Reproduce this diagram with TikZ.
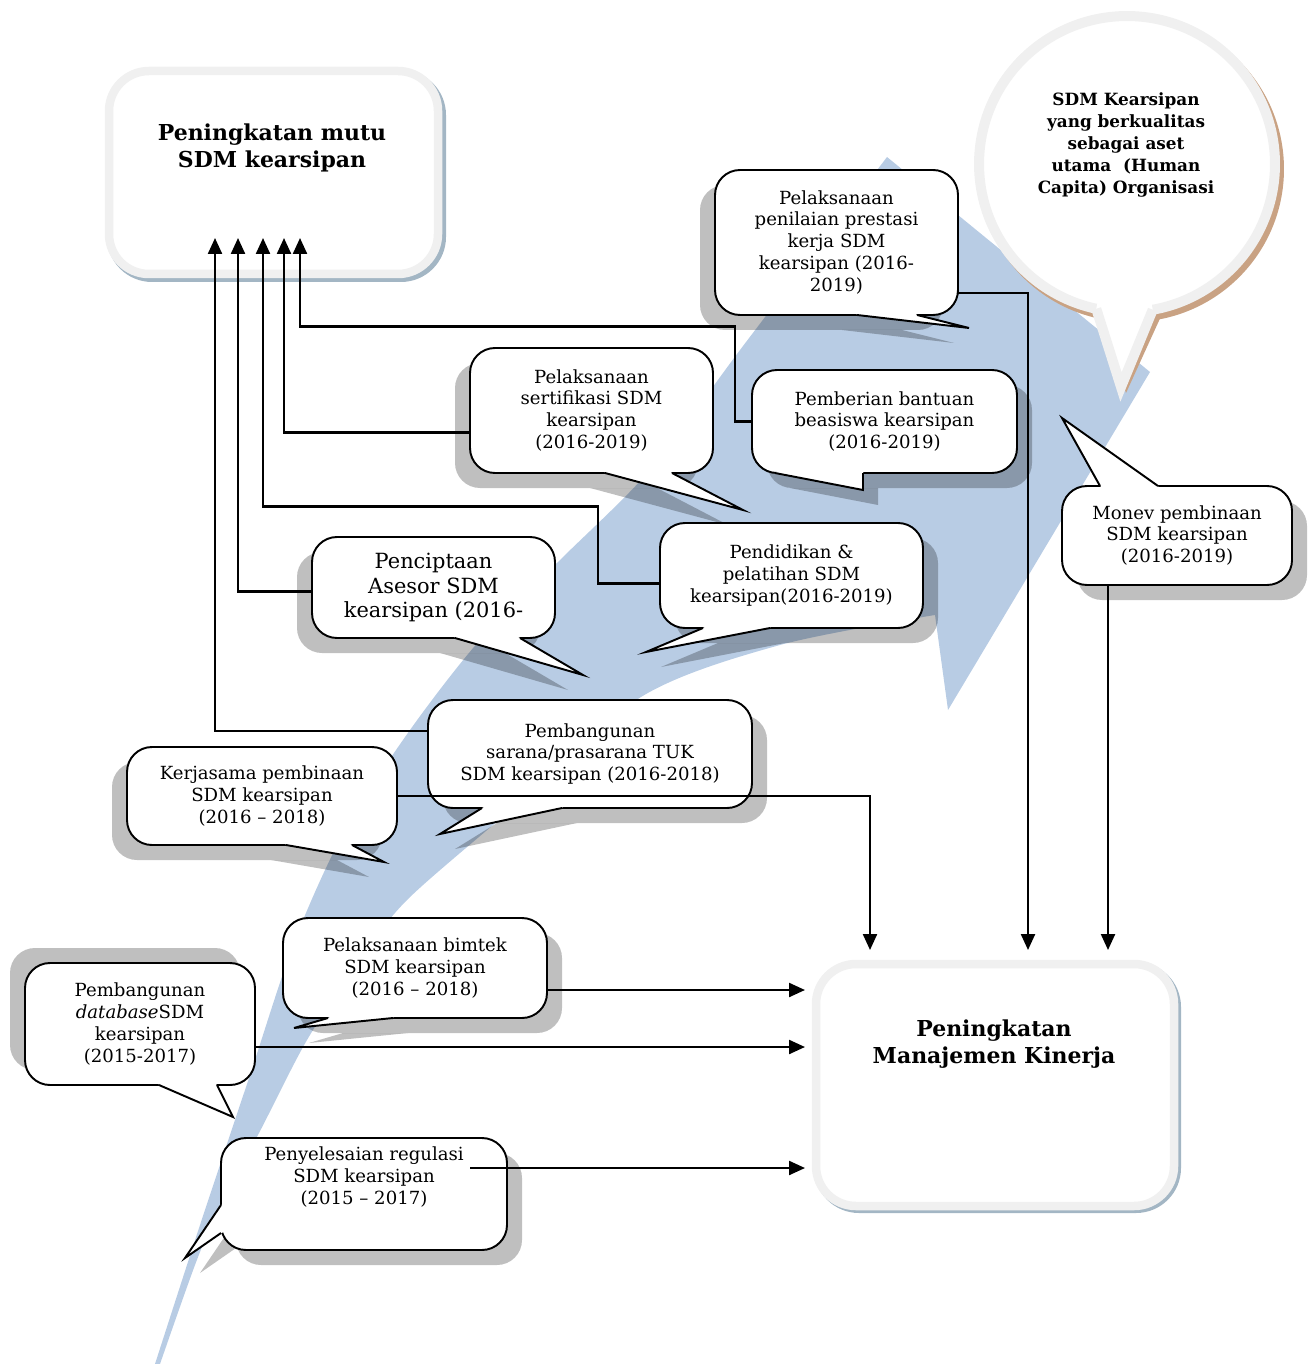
\documentclass[tikz,border=0pt]{standalone}
\usepackage{fontspec}
\setmainfont{DejaVu Serif}
\usetikzlibrary{arrows.meta,calc,positioning}

\pgfdeclarelayer{back}
\pgfdeclarelayer{wire}
\pgfdeclarelayer{shade}
\pgfsetlayers{back,wire,shade,main}

\definecolor{swooshblue}{HTML}{B8CCE4}
\definecolor{rimgray}{HTML}{F0F0F0}
\definecolor{boxshadow}{HTML}{A3B6C4}
\definecolor{tanshadow}{HTML}{C9A283}

% shadow of a bubble: node, dx, dy
\newcommand{\bubshade}[3]{%
  \begin{pgfonlayer}{shade}
    \fill[dropsh, rounded corners=0.5cm] ($(#1.south west)+(#2,#3)$) rectangle ($(#1.north east)+(#2,#3)$);
  \end{pgfonlayer}}
% pointer of a bubble: node, base a, base b, tip, shadow dx, dy
\newcommand{\bubtail}[6]{%
  \begin{pgfonlayer}{shade}
    \fill[dropsh] ($(#2)+(#5,#6)$) -- ($(#4)+(#5,#6)$) -- ($(#3)+(#5,#6)$) -- cycle;
  \end{pgfonlayer}
  \fill[white] ($(#2)!3pt!(#1.center)$) -- (#2) -- (#4) -- (#3) -- ($(#3)!3pt!(#1.center)$) -- cycle;
  \draw[bubline] (#2) -- (#4) -- (#3);}

\begin{document}
\begin{tikzpicture}[
    x=0.02cm, y=-0.02cm,
    bubble/.style={draw, fill=white, rounded corners=0.5cm, align=center, inner sep=0pt, outer sep=0pt,
        line width=1.1pt, font=\fontsize{10.3}{12.5}\selectfont},
    wh/.style 2 args={minimum width=#1*0.02cm, minimum height=#2*0.02cm},
    bubline/.style={line width=1.1pt},
    dropsh/.style={fill=black, opacity=0.25},
    conn/.style={draw, line width=1.3pt, -{Triangle[width=0.28cm,length=0.32cm]}},
    mainbox/.style={draw=rimgray, line width=0.17cm, fill=white, rounded corners=0.8cm, outer sep=0pt},
    headline/.style={font=\bfseries\fontsize{12.5}{15.5}\selectfont, align=center}
]
\useasboundingbox (0,0) rectangle (1310,1364);

% Swoosh
\begin{pgfonlayer}{back}
\fill[swooshblue] plot[smooth] coordinates {(155,1364) (200,1225) (250,1075) (295,940) (345,830) (410,730)
    (480,640) (560,560) (650,470) (740,350) (820,245) (887,157)}
  -- (1150,372) -- (948,710)
  -- plot[smooth] coordinates {(935,615) (780,645) (641,697) (507,813) (407,900) (360,960) (307,1040)
    (259,1133) (222,1200) (195,1265) (160,1364)} -- cycle;
\end{pgfonlayer}

% Main boxes
\begin{pgfonlayer}{back}
\fill[boxshadow, rounded corners=0.9cm] (107,70) rectangle (446,282);
\node[mainbox, wh={329}{203}] (mutu) at (273.5,172.5) {};
\node[headline] (mututitle) at (272,148) {Peningkatan mutu\\SDM kearsipan};
\end{pgfonlayer}
\node[mainbox, wh={358}{242}] (kin) at (995,1085) {};
\node[headline] (kintitle) at (994,1044) {Peningkatan\\Manajemen Kinerja};
\begin{pgfonlayer}{shade}
\fill[boxshadow, rounded corners=0.9cm] ($(kin.south west)+(-2,7)$) rectangle ($(kin.north east)+(7,-2)$);
\end{pgfonlayer}

% Goal
\node[circle, draw=rimgray, line width=0.2cm, fill=white, minimum size=5.92cm, inner sep=0pt, outer sep=0pt] (goal) at (1127,164) {};
\coordinate (ga) at ($(goal.center)+(102:148)$);
\coordinate (gb) at ($(goal.center)+(80:148)$);
\coordinate (gtip) at (1121,387);
\begin{pgfonlayer}{shade}
\fill[tanshadow] ($(goal.center)+(4,5)$) circle[radius=3.06cm];
\fill[tanshadow] ($(ga)+(4,5)$) -- ($(gtip)+(5,6)$) -- ($(gb)+(9,5)$) -- cycle;
\end{pgfonlayer}
\fill[white] ($(ga)!9pt!(goal.center)$) -- (ga) -- (gtip) -- (gb) -- ($(gb)!9pt!(goal.center)$) -- cycle;
\draw[rimgray, line width=0.2cm] (ga) -- (gtip) -- (gb);
\node[font=\bfseries\fontsize{9.6}{12.5}\selectfont, align=center] (goaltext) at (1126,145)
  {SDM Kearsipan\\yang berkualitas\\sebagai aset\\utama~ (Human\\Capita) Organisasi};

% Bubbles
\node[bubble, wh={243}{145}] (pen) at (836.5,242.5) {Pelaksanaan\\penilaian prestasi\\kerja SDM\\kearsipan (2016-\\2019)};
\bubshade{pen}{-15}{15}
\bubtail{pen}{857,315}{917,315}{969,328}{-15}{15}

\node[bubble, wh={243}{125}] (sert) at (591.5,410.5) {Pelaksanaan\\sertifikasi SDM\\kearsipan\\(2016-2019)};
\bubshade{sert}{-15}{15}
\bubtail{sert}{605,473}{672,473}{743,510}{-15}{15}

\node[bubble, wh={265}{103}] (beas) at (884.5,421.5) {Pemberian bantuan\\beasiswa kearsipan\\(2016-2019)};
\bubshade{beas}{15}{15}
\bubtail{beas}{775,473}{863,473}{863,490}{15}{15}

\node[bubble, wh={263}{105}] (pend) at (791.5,575.5) {Pendidikan \&\\pelatihan SDM\\kearsipan(2016-2019)};
\bubshade{pend}{15}{15}
\bubtail{pend}{703,628}{770,628}{646,652}{15}{15}

\node[bubble, wh={243}{101}, font=\fontsize{11.9}{14}\selectfont] (penc) at (433.5,587.5) {Penciptaan\\Asesor SDM\\kearsipan (2016-};
\bubshade{penc}{-15}{15}
\bubtail{penc}{455,638}{520,638}{583,675}{-15}{15}

\node[bubble, wh={324}{108}] (sar) at (590,754) {Pembangunan\\sarana/prasarana TUK\\SDM kearsipan (2016-2018)};
\bubshade{sar}{15}{15}
\bubtail{sar}{482,808}{562,808}{440,834}{15}{15}

\node[bubble, wh={270}{98}] (kerj) at (262,796) {Kerjasama pembinaan\\SDM kearsipan\\(2016 -- 2018)};
\bubshade{kerj}{-15}{15}
\bubtail{kerj}{286,845}{352,845}{384,862}{-15}{15}

\node[bubble, wh={264}{100}] (bimt) at (415,968) {Pelaksanaan bimtek\\SDM kearsipan\\(2016 -- 2018)};
\bubshade{bimt}{15}{15}
\bubtail{bimt}{328,1018}{393,1018}{294,1028}{15}{15}

\node[bubble, wh={230}{122}] (db) at (140,1024) {Pembangunan\\\textit{database}SDM\\kearsipan\\(2015-2017)};
\bubshade{db}{-15}{-15}
\bubtail{db}{159,1085}{217,1085}{233,1117}{-15}{-15}

\node[bubble, wh={286}{112}] (pyl) at (364,1194) {Penyelesaian regulasi\\SDM kearsipan\\(2015 -- 2017)\\[8pt]};
\bubshade{pyl}{15}{15}
\bubtail{pyl}{221,1205}{221,1233}{185,1258}{15}{15}

\node[bubble, wh={230}{99}] (mon) at (1177,535.5) {Monev pembinaan\\SDM kearsipan\\(2016-2019)};
\bubshade{mon}{15}{15}
\bubtail{mon}{1100,486}{1158,486}{1062,418}{15}{15}

% Lines to mutu
\begin{pgfonlayer}{wire}
\draw[conn] ($(sar.north west)+(0,31)$) -| ($(mutu.south west)+(106,-36)$);
\draw[conn] ($(penc.west)+(0,4)$) -| ($(mutu.south west)+(129,-36)$);
\draw[conn] ($(pend.west)+(0,8)$) -- ++(-62,0) -- ++(0,-77) -| ($(mutu.south west)+(154,-36)$);
\draw[conn] ($(sert.west)+(0,22)$) -| ($(mutu.south west)+(175,-36)$);
\draw[conn] (beas.west) -- ++(-17,0) -- ++(0,-95) -| ($(mutu.south west)+(191,-36)$);
\draw[conn] ($(mon.south west)+(46,0)$) -- ($(kin.north west)+(292,-14)$);
\end{pgfonlayer}

% Lines to kinerja
\draw[conn] ($(pen.south east)+(0,-22)$) -| ($(kin.north west)+(212,-14)$);
\draw[conn] (kerj.east) -| ($(kin.north west)+(54,-14)$);
\draw[conn] ($(bimt.south east)+(0,-28)$) -- ($(kin.north west)+(-11,26)$);
\draw[conn] ($(db.south east)+(0,-38)$) -- ($(kin.north west)+(-11,83)$);
\draw[conn] ($(pyl.north east)+(-37,30)$) -- ($(kin.north west)+(-11,204)$);

\end{tikzpicture}
\end{document}
